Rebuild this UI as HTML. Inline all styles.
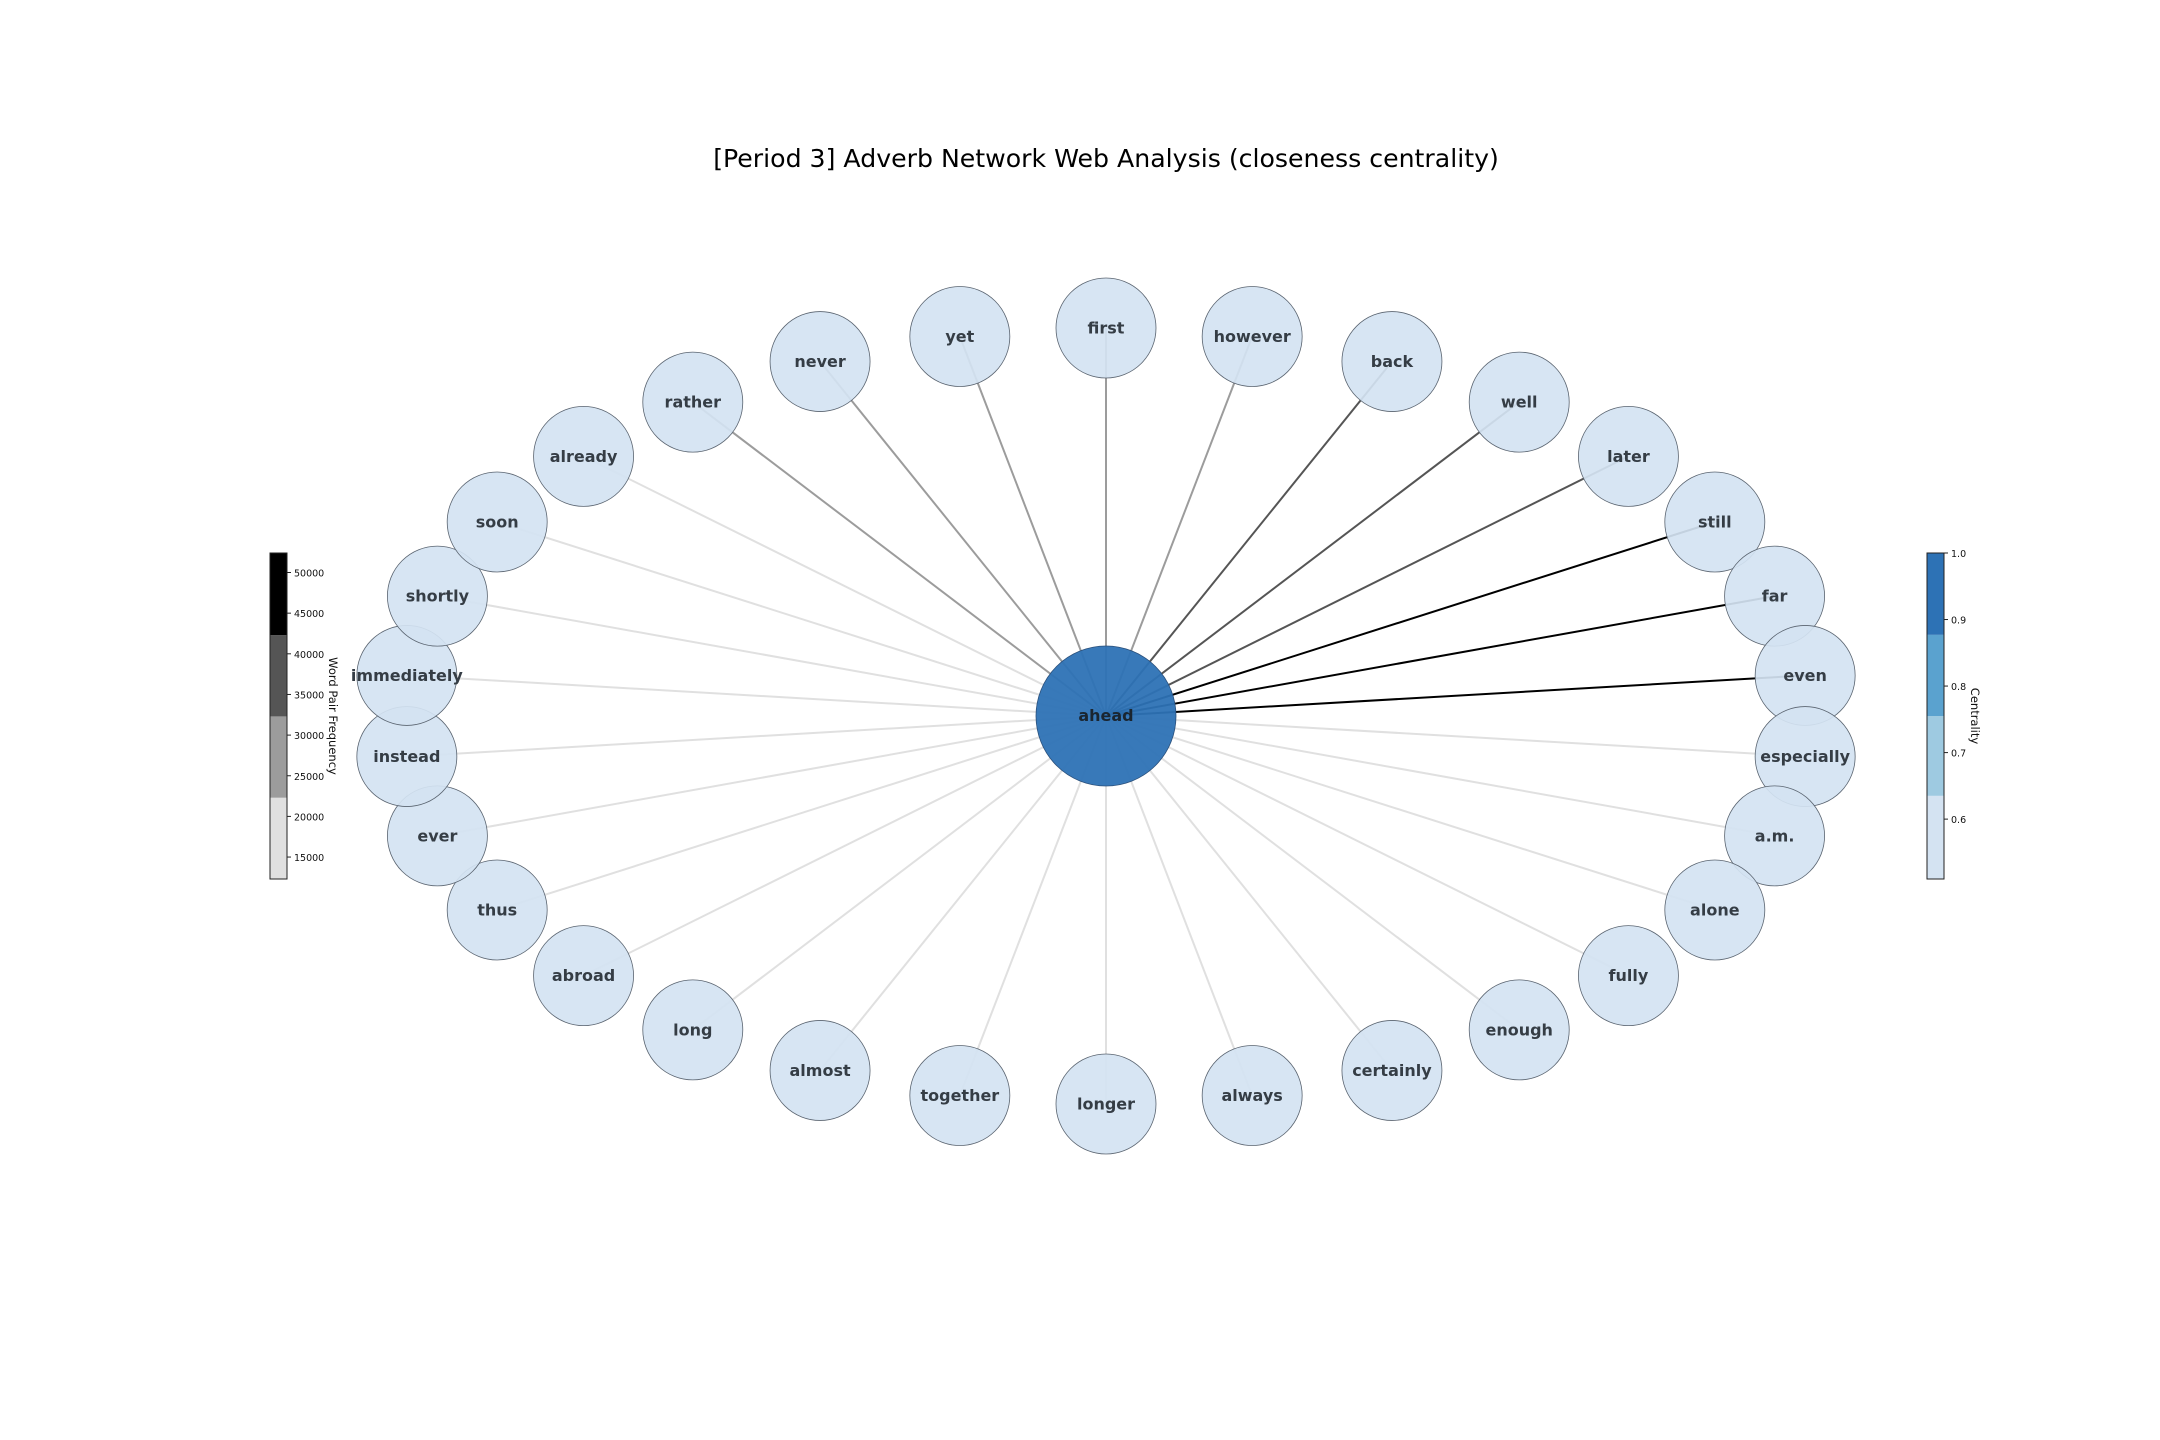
<!DOCTYPE html>
<html><head><meta charset="utf-8"><style>
html,body{margin:0;padding:0;background:#fff;}
svg{display:block;font-family:"DejaVu Sans","Liberation Sans",sans-serif;}
</style></head><body>
<svg id="chart" width="2160" height="1440" viewBox="0 0 2160 1440">
<text x="1106" y="167" text-anchor="middle" font-size="25.2" fill="#000">[Period 3] Adverb Network Web Analysis (closeness centrality)</text>
<g id="edges"></g>
<g id="nodes"></g>
<g id="freqbar"></g>
<g id="centbar"></g>
</svg>
<script>
const words = ["first","however","back","well","later","still","far","even","especially","a.m.","alone","fully","enough","certainly","always","longer","together","almost","long","abroad","thus","ever","instead","immediately","shortly","soon","already","rather","never","yet"];
const frequencies = [27000,27000,38000,38000,38000,48000,48000,48000,15000,15000,15000,15000,15000,15000,15000,15000,15000,15000,15000,15000,15000,15000,15000,15000,15000,15000,15000,27000,27000,27000];
const centralities = [0.52,0.52,0.52,0.52,0.52,0.52,0.52,0.52,0.52,0.52,0.52,0.52,0.52,0.52,0.52,0.52,0.52,0.52,0.52,0.52,0.52,0.52,0.52,0.52,0.52,0.52,0.52,0.52,0.52,0.52];
const centerWord = "ahead";
const centerCentrality = 1.0;
const freqTicks = [15000,20000,25000,30000,35000,40000,45000,50000];
const freqBounds = [12300,22300,32300,42300,52400];
const centTicks = [0.6,0.7,0.8,0.9,1.0];
const centBounds = [0.51,0.635,0.755,0.877,1.0];

const NS="http://www.w3.org/2000/svg";
function mk(tag,attrs,parent){const e=document.createElementNS(NS,tag);for(const k in attrs)e.setAttribute(k,attrs[k]);parent.appendChild(e);return e;}
const grays=["#e0e0e0","#9c9c9c","#555555","#000000"];
const blues=["#d4e3f2","#9ecae1","#5aa2cf","#2d72b5"];
function bin(v,b){for(let i=0;i<b.length-2;i++){if(v<b[i+1])return i;}return b.length-2;}
const cx=1106, cy=716, rx=703, ry=388, R=50, Rc=70;
const edges=document.getElementById('edges'), nodes=document.getElementById('nodes');
const pos=words.map((w,i)=>{const a=(90-i*12)*Math.PI/180;return [cx+rx*Math.cos(a), cy-ry*Math.sin(a)];});
words.forEach((w,i)=>{
  const g=bin(frequencies[i],freqBounds);
  const l=mk('line',{x1:cx,y1:cy,x2:pos[i][0],y2:pos[i][1],stroke:grays[g],'stroke-width':2},edges);
  
  
});
words.forEach((w,i)=>{
  const g=mk('g',{},nodes);
  
  
  mk('circle',{cx:pos[i][0],cy:pos[i][1],r:R,fill:blues[bin(centralities[i],centBounds)],'fill-opacity':0.92,stroke:'#5a6470','stroke-width':0.8},g);
  const t=mk('text',{x:pos[i][0],y:pos[i][1]+5.5,'text-anchor':'middle','font-size':16,'font-weight':'bold',fill:'#353d45'},g);
  t.textContent=w;
});
const cg=mk('g',{},nodes);


mk('circle',{cx:cx,cy:cy,r:Rc,fill:blues[bin(centerCentrality,centBounds)],'fill-opacity':0.95,stroke:'#2a4f7a','stroke-width':0.8},cg);
const ct=mk('text',{x:cx,y:cy+5,'text-anchor':'middle','font-size':16,'font-weight':'bold',fill:'#1a2530'},cg);
ct.textContent=centerWord;

function colorbar(gid,x,w,bounds,colors,ticks,fmt,label,lx){
  const g=document.getElementById(gid);const top=553,bot=879;
  const lo=bounds[0],hi=bounds[bounds.length-1];
  const y=v=>bot-(v-lo)/(hi-lo)*(bot-top);
  for(let i=0;i<colors.length;i++){
    const r=mk('rect',{x:x,y:y(bounds[i+1]),width:w,height:y(bounds[i])-y(bounds[i+1]),fill:colors[i]},g);
    
    
  }
  mk('rect',{x:x,y:top,width:w,height:bot-top,fill:'none',stroke:'#222','stroke-width':1},g);
  ticks.forEach(t=>{
    const yy=y(t);
    mk('line',{x1:x+w,y1:yy,x2:x+w+4,y2:yy,stroke:'#222','stroke-width':1},g);
    const tx=mk('text',{x:x+w+7,y:yy+4,'font-size':9.5,fill:'#111'},g);
    tx.textContent=fmt(t);
    
    
  });
  const lt=mk('text',{x:lx,y:(top+bot)/2,'text-anchor':'middle','font-size':11.5,fill:'#111',transform:`rotate(90 ${lx} ${(top+bot)/2})`},g);
  lt.textContent=label;
  
  
}
colorbar('freqbar',270,17,freqBounds,grays,freqTicks,v=>String(v),'Word Pair Frequency',329);
colorbar('centbar',1927,17,centBounds,blues,centTicks,v=>v.toFixed(1),'Centrality',1971);
</script>
</body></html>
